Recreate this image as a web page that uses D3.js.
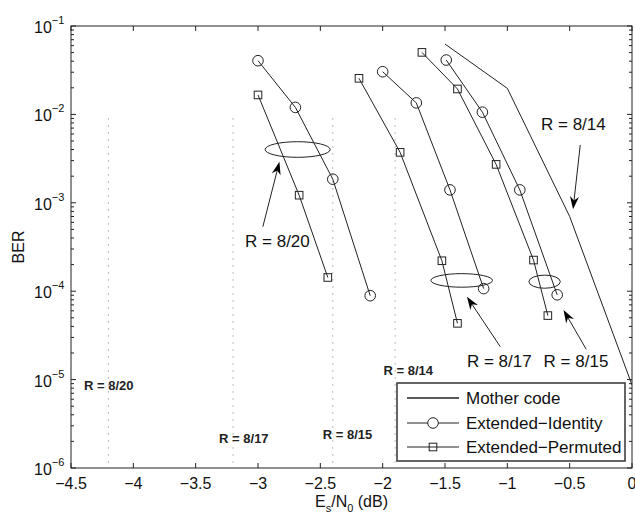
<!DOCTYPE html>
<html>
<head>
<meta charset="UTF-8">
<title>BER vs Es/N0</title>
<script src="https://cdn.jsdelivr.net/npm/d3@7/dist/d3.min.js"></script>
<style>
body { margin: 0; background: #fff; }
svg { font-family: "Liberation Sans", Arial, Helvetica, sans-serif; }
</style>
</head>
<body>
<div id="canvas"></div>
<script>
// ---- data ----
var xTicks = [-4.5, -4, -3.5, -3, -2.5, -2, -1.5, -1, -0.5, 0];
var yTicks = [1e-6, 1e-5, 1e-4, 1e-3, 1e-2, 1e-1];

var motherX = [-1.5, -1.0, -0.5, 0.0];
var motherY = [0.0625, 0.0197, 7.0e-4, 8.7e-6];

// Extended-Identity, one curve per rate (8/20, 8/17, 8/15)
var identX = [
  [-3.0, -2.7, -2.4, -2.1],
  [-2.0, -1.73, -1.46, -1.19],
  [-1.49, -1.2, -0.9, -0.6]
];
var identY = [
  [0.0405, 0.0120, 1.85e-3, 8.9e-5],
  [0.0304, 0.0135, 1.40e-3, 1.07e-4],
  [0.0412, 0.0106, 1.40e-3, 9.1e-5]
];

// Extended-Permuted
var permX = [
  [-3.0, -2.67, -2.44],
  [-2.19, -1.86, -1.525, -1.40],
  [-1.685, -1.40, -1.09, -0.79, -0.675]
];
var permY = [
  [0.0166, 1.22e-3, 1.43e-4],
  [0.0256, 3.72e-3, 2.21e-4, 4.33e-5],
  [0.0503, 0.0194, 2.72e-3, 2.25e-4, 5.3e-5]
];

// dotted limit lines with their labels
var limitX = [-4.2, -3.2, -2.4, -1.9];
var limitTop = 0.009;
var limitLabels = ["R = 8/20", "R = 8/17", "R = 8/15", "R = 8/14"];
var limitLabelX = [-4.396, -3.312, -2.48, -1.993];
var limitLabelY = [7.6e-6, 1.93e-6, 2.13e-6, 1.13e-5];

// ellipses: [x0, x1, yLow, yHigh]
var ellipses = [
  [-2.943, -2.421, 3.27e-3, 4.91e-3],
  [-1.613, -1.119, 1.11e-4, 1.58e-4],
  [-0.827, -0.575, 1.08e-4, 1.52e-4]
];
// arrows: [tailX, tailY, tipX, tipY]
var arrows = [
  [-2.961, 5.37e-4, -2.828, 2.92e-3],
  [-1.057, 2.36e-5, -1.324, 8.67e-5],
  [-0.367, 2.2e-5, -0.549, 6.12e-5],
  [-0.415, 4.51e-3, -0.473, 8.43e-4]
];
var noteLabels = ["R = 8/20", "R = 8/17", "R = 8/15", "R = 8/14"];
var noteX = [-3.104, -1.324, -0.709, -0.73];
var noteY = [3.16e-4, 1.40e-5, 1.40e-5, 6.67e-3];

var legendNames = ["Mother code", "Extended\u2212Identity", "Extended\u2212Permuted"];

// ---- layout ----
var W = 635, H = 515;
var L = 71, T = 26, R = 632, B = 468;
var ink = "#222";

var svg = d3.select("#canvas").append("svg")
  .attr("width", W).attr("height", H);

var x = d3.scaleLinear().domain([-4.5, 0]).range([L, R]);
var y = d3.scaleLog().domain([1e-6, 1e-1]).range([B, T]);

svg.append("clipPath").attr("id", "clip")
  .append("rect").attr("x", L).attr("y", T).attr("width", R - L).attr("height", B - T);

var plot = svg.append("g").attr("clip-path", "url(#clip)");

// dotted limit lines
plot.selectAll(".limit").data(limitX).enter().append("line")
  .attr("x1", function(d) { return x(d); }).attr("x2", function(d) { return x(d); })
  .attr("y1", y(limitTop)).attr("y2", y(1e-6))
  .attr("stroke", "#777").attr("stroke-width", 1)
  .attr("stroke-dasharray", "1,6");

svg.selectAll(".limitlab").data(limitLabels).enter().append("text")
  .attr("x", function(d, i) { return x(limitLabelX[i]); })
  .attr("y", function(d, i) { return y(limitLabelY[i]); })
  .attr("font-size", 13).attr("font-weight", "bold").attr("fill", ink)
  .text(function(d) { return d; });

var line = d3.line()
  .x(function(d) { return x(d[0]); })
  .y(function(d) { return y(d[1]); });

function pairs(xs, ys) { return xs.map(function(v, i) { return [v, ys[i]]; }); }

// mother code
plot.append("path").datum(pairs(motherX, motherY))
  .attr("d", line).attr("fill", "none").attr("stroke", ink).attr("stroke-width", 1);

// extended identity
identX.forEach(function(xs, k) {
  var pts = pairs(xs, identY[k]);
  plot.append("path").datum(pts).attr("d", line)
    .attr("fill", "none").attr("stroke", ink).attr("stroke-width", 1);
  plot.selectAll(".ci" + k).data(pts).enter().append("circle")
    .attr("cx", function(d) { return x(d[0]); })
    .attr("cy", function(d) { return y(d[1]); })
    .attr("r", 5.3).attr("fill", "none").attr("stroke", ink).attr("stroke-width", 1);
});

// extended permuted
permX.forEach(function(xs, k) {
  var pts = pairs(xs, permY[k]);
  plot.append("path").datum(pts).attr("d", line)
    .attr("fill", "none").attr("stroke", ink).attr("stroke-width", 1);
  plot.selectAll(".sq" + k).data(pts).enter().append("rect")
    .attr("x", function(d) { return x(d[0]) - 3.8; })
    .attr("y", function(d) { return y(d[1]) - 3.8; })
    .attr("width", 7.6).attr("height", 7.6)
    .attr("fill", "none").attr("stroke", ink).attr("stroke-width", 1);
});

// ellipses
svg.selectAll(".ell").data(ellipses).enter().append("ellipse")
  .attr("cx", function(d) { return (x(d[0]) + x(d[1])) / 2; })
  .attr("cy", function(d) { return (y(d[2]) + y(d[3])) / 2; })
  .attr("rx", function(d) { return (x(d[1]) - x(d[0])) / 2; })
  .attr("ry", function(d) { return (y(d[2]) - y(d[3])) / 2; })
  .attr("fill", "none").attr("stroke", ink).attr("stroke-width", 1);

// arrows with notched heads
arrows.forEach(function(a) {
  var x1 = x(a[0]), y1 = y(a[1]), x2 = x(a[2]), y2 = y(a[3]);
  var ang = Math.atan2(y2 - y1, x2 - x1);
  var len = 13, half = 4.5, notch = 9;
  var ux = Math.cos(ang), uy = Math.sin(ang);
  var px = -uy, py = ux;
  svg.append("line")
    .attr("x1", x1).attr("y1", y1)
    .attr("x2", x2 - ux * notch).attr("y2", y2 - uy * notch)
    .attr("stroke", ink).attr("stroke-width", 1);
  var bx = x2 - ux * len, by = y2 - uy * len;
  var pts = [
    [x2, y2],
    [bx + px * half, by + py * half],
    [x2 - ux * notch, y2 - uy * notch],
    [bx - px * half, by - py * half]
  ];
  svg.append("path")
    .attr("d", "M" + pts.map(function(p) { return p.join(","); }).join("L") + "Z")
    .attr("fill", "#000");
});

svg.selectAll(".note").data(noteLabels).enter().append("text")
  .attr("x", function(d, i) { return x(noteX[i]); })
  .attr("y", function(d, i) { return y(noteY[i]); })
  .attr("font-size", 17).attr("fill", "#111")
  .text(function(d) { return d; });

// ---- axes box and ticks ----
var axes = svg.append("g").attr("stroke", ink).attr("stroke-width", 1);
axes.append("rect").attr("x", L).attr("y", T).attr("width", R - L).attr("height", B - T)
  .attr("fill", "none");

xTicks.forEach(function(t) {
  axes.append("line").attr("x1", x(t)).attr("x2", x(t)).attr("y1", B).attr("y2", B - 5);
  axes.append("line").attr("x1", x(t)).attr("x2", x(t)).attr("y1", T).attr("y2", T + 5);
});

// log ticks: majors at decades, minors at 2..9
yTicks.forEach(function(t, i) {
  axes.append("line").attr("x1", L).attr("x2", L + 5).attr("y1", y(t)).attr("y2", y(t));
  axes.append("line").attr("x1", R).attr("x2", R - 5).attr("y1", y(t)).attr("y2", y(t));
  if (i < yTicks.length - 1) {
    for (var m = 2; m <= 9; m++) {
      var v = t * m;
      axes.append("line").attr("x1", L).attr("x2", L + 3).attr("y1", y(v)).attr("y2", y(v));
      axes.append("line").attr("x1", R).attr("x2", R - 3).attr("y1", y(v)).attr("y2", y(v));
    }
  }
});

svg.selectAll(".xl").data(xTicks).enter().append("text")
  .attr("x", function(d) { return x(d); }).attr("y", B + 21)
  .attr("text-anchor", "middle").attr("font-size", 16).attr("fill", "#111")
  .text(function(d) { return d === 0 ? "0" : d3.format("")(d).replace("-", "\u2212"); });

yTicks.forEach(function(t) {
  var e = Math.round(Math.log10(t));
  var tx = svg.append("text").attr("x", L - 37).attr("y", y(t) + 7)
    .attr("font-size", 16).attr("fill", "#111");
  tx.append("tspan").text("10");
  tx.append("tspan").attr("dy", -9).attr("font-size", 11).text("\u2212" + Math.abs(e));
});

// axis titles
svg.append("text")
  .attr("transform", "translate(24," + ((T + B) / 2) + ") rotate(-90)")
  .attr("text-anchor", "middle").attr("font-size", 16).attr("fill", "#111")
  .text("BER");

var xt = svg.append("text").attr("x", (L + R) / 2).attr("y", 507)
  .attr("text-anchor", "middle").attr("font-size", 16).attr("fill", "#111");
xt.append("tspan").text("E");
xt.append("tspan").attr("dy", 5).attr("font-size", 11).text("s");
xt.append("tspan").attr("dy", -5).text("/N");
xt.append("tspan").attr("dy", 5).attr("font-size", 11).text("0");
xt.append("tspan").attr("dy", -5).text(" (dB)");

// ---- legend ----
var lg = svg.append("g");
var lx = 397, ly = 383, lw = 228, lh = 78;
lg.append("rect").attr("x", lx).attr("y", ly).attr("width", lw).attr("height", lh)
  .attr("fill", "#fff").attr("stroke", "#333").attr("stroke-width", 1.5);
var rowY = [398, 423, 447];
legendNames.forEach(function(name, i) {
  lg.append("line").attr("x1", 407).attr("x2", 459).attr("y1", rowY[i]).attr("y2", rowY[i])
    .attr("stroke", ink).attr("stroke-width", i === 0 ? 1.5 : 1);
  if (i === 1) {
    lg.append("circle").attr("cx", 433).attr("cy", rowY[i]).attr("r", 5.3)
      .attr("fill", "#fff").attr("stroke", ink);
  }
  if (i === 2) {
    lg.append("rect").attr("x", 433 - 3.8).attr("y", rowY[i] - 3.8)
      .attr("width", 7.6).attr("height", 7.6).attr("fill", "none").attr("stroke", ink);
  }
  lg.append("text").attr("x", 466).attr("y", rowY[i] + 6)
    .attr("font-size", 17).attr("fill", "#111").text(name);
});
</script>
</body>
</html>
